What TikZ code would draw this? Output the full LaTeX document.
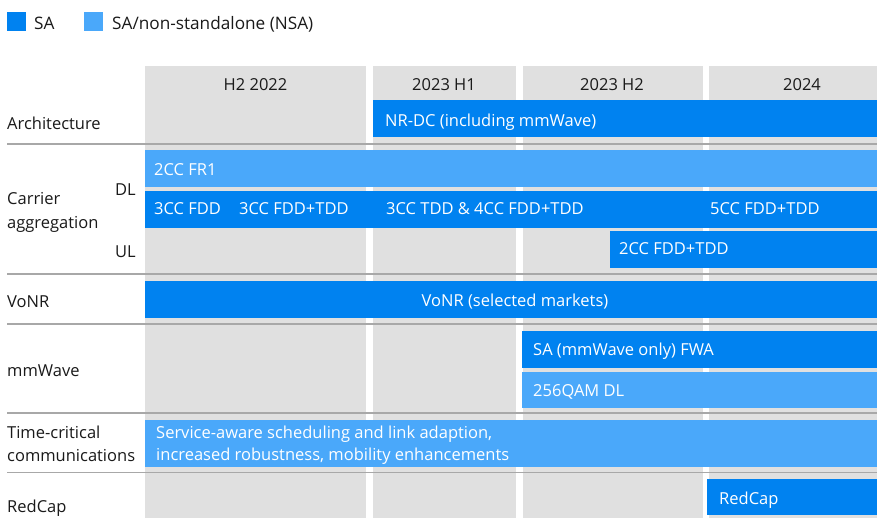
\documentclass[tikz,border=0pt]{standalone}
\usepackage{fontspec}
\setmainfont{Open Sans}
\definecolor{sa}{HTML}{0082F0}
\definecolor{nsa}{HTML}{4AA8FA}
\definecolor{colgray}{HTML}{E0E0E0}
\definecolor{sepline}{HTML}{A8A8A8}
\definecolor{txt}{HTML}{1A1A1A}
\begin{document}
\begin{tikzpicture}[x=1pt,y=-1pt,
  font=\fontsize{16.5}{20}\selectfont,
  lbl/.style={anchor=base west,inner sep=0pt,text=txt},
  leg/.style={lbl,font=\fontsize{17.2}{20}\selectfont},
  bartext/.style={anchor=base west,inner sep=0pt,text=white},
  hdr/.style={anchor=base,inner sep=0pt,text=txt},
  sep/.style={draw=sepline,line width=1.6pt},
  sabar/.style={fill=sa},
  nsabar/.style={fill=nsa}]
\useasboundingbox (0,0) rectangle (877,518);
\fill[white] (0,0) rectangle (877,518);
% legend
\fill[sabar] (7,12) rectangle (26,31);
\node[leg] (legsa) at (34,29.3) {SA};
\fill[nsabar] (84,12) rectangle (103,31);
\node[leg] (legnsa) at (112,29.3) {SA/non-standalone (NSA)};
% columns
\fill[colgray] (145,66) rectangle (366,518);
\fill[colgray] (373,66) rectangle (516,518);
\fill[colgray] (523,66) rectangle (703,518);
\fill[colgray] (709,66) rectangle (877,518);
\node[hdr] (h1) at (255.5,90.5) {H2 2022};
\node[hdr] (h2) at (444,90.5) {2023 H1};
\node[hdr] (h3) at (612,90.5) {2023 H2};
\node[hdr] (h4) at (802,90.5) {2024};
% separators
\draw[sep] (7,144) -- (877,144);
\draw[sep] (7,274) -- (877,274);
\draw[sep] (7,324) -- (877,324);
\draw[sep] (7,413) -- (877,413);
\draw[sep] (7,472.5) -- (877,472.5);
% row labels
\node[lbl] (larch) at (7,130) {Architecture};
\node[lbl] (lca1) at (7,205) {Carrier};
\node[lbl] (lca2) at (7,228.3) {aggregation};
\node[lbl] (ldl) at (115,196) {DL};
\node[lbl] (lul) at (115,258) {UL};
\node[lbl] (lvonr) at (7,307) {VoNR};
\node[lbl] (lmmw) at (7,376) {mmWave};
\node[lbl] (ltc1) at (7,438) {Time-critical};
\node[lbl] (ltc2) at (7,461.7) {communications};
\node[lbl] (lrc) at (7,512) {RedCap};
% bars
\fill[sabar] (373,100) rectangle (877,137);
\node[bartext] (nrdc) at (385,126.5) {NR-DC (including mmWave)};
\fill[nsabar] (145,150) rectangle (877,187);
\node[bartext] (fr1) at (154,176) {2CC FR1};
\fill[sabar] (145,191) rectangle (877,228);
\node[bartext] (c3fdd) at (154,215) {3CC FDD};
\node[bartext] (c3ft) at (239,215) {3CC FDD+TDD};
\node[bartext] (c3tdd) at (386,215) {3CC TDD \& 4CC FDD+TDD};
\node[bartext] (c5) at (710,215) {5CC FDD+TDD};
\fill[sabar] (610,231) rectangle (877,268);
\node[bartext] (ul2) at (619,255) {2CC FDD+TDD};
\fill[sabar] (145,281) rectangle (877,318);
\node[anchor=base,inner sep=0pt,text=white] (vonr) at (515,306.7) {VoNR (selected markets)};
\fill[sabar] (522,331) rectangle (877,368);
\node[bartext] (fwa) at (533,355) {SA (mmWave only) FWA};
\fill[nsabar] (522,371.5) rectangle (877,408);
\node[bartext] (qam) at (533,396.5) {256QAM DL};
\fill[nsabar] (145,419.5) rectangle (877,467);
\node[bartext] (tc1) at (156,438.3) {Service-aware scheduling and link adaption,};
\node[bartext] (tc2) at (156,460.5) {increased robustness, mobility enhancements};
\fill[sabar] (707,478.5) rectangle (877,515);
\node[bartext] (rc) at (719,504) {RedCap};
\end{tikzpicture}
\end{document}
